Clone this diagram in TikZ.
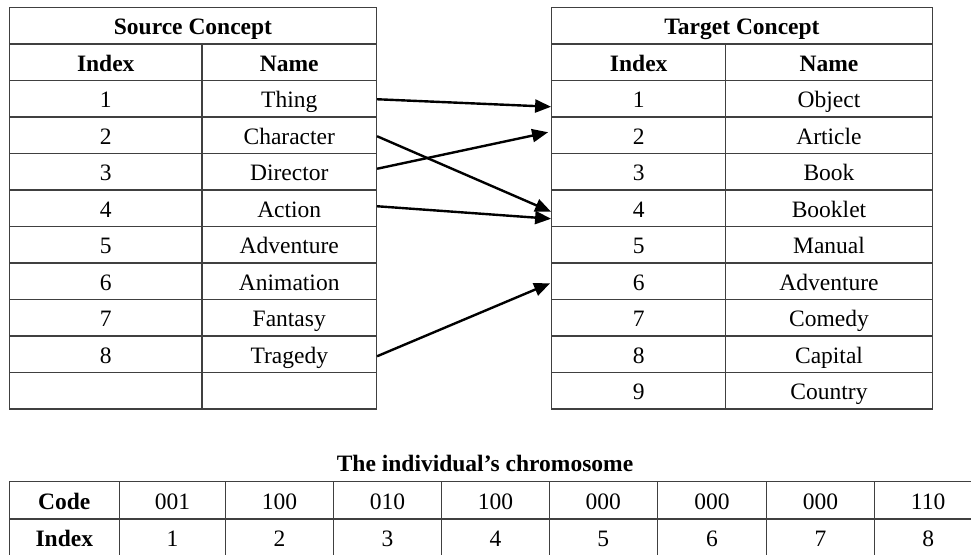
\documentclass[tikz,border=0pt]{standalone}
\usepackage{fontspec}
\setmainfont{Liberation Serif}
\usetikzlibrary{arrows.meta}
\begin{document}
\begin{tikzpicture}[x=1pt,y=-1pt,
  cell/.style={draw=black!75,line width=1.2pt,rectangle,inner sep=0pt,minimum height=36.5pt,text height=18pt,text depth=0pt,font=\fontsize{23.5}{27}\selectfont},
  hcell/.style={cell,font=\fontsize{23.5}{27}\selectfont\bfseries},
  link/.style={line width=2.4pt,-{Triangle[length=16pt,width=13pt]}},
  title/.style={font=\fontsize{23.5}{27}\selectfont\bfseries,inner sep=0pt,text height=18pt,text depth=0pt}]
\useasboundingbox (0,0) rectangle (971,554);
\clip (0,0) rectangle (971,554);
\fill[white] (0,0) rectangle (971,554);
% Source table
\node[hcell,minimum width=367pt] (sh) at (193,25.75) {Source Concept};
\node[hcell,minimum width=192.5pt] (si0) at (105.75,62.25) {Index};
\node[hcell,minimum width=174.5pt] (sn0) at (289.25,62.25) {Name};
\foreach \k/\nm in {1/Thing,2/Character,3/Director,4/Action,5/Adventure,6/Animation,7/Fantasy,8/Tragedy}{
  \node[cell,minimum width=192.5pt] (si\k) at (105.75,62.25+36.5*\k) {\k};
  \node[cell,minimum width=174.5pt] (sn\k) at (289.25,62.25+36.5*\k) {\nm};
}
\node[cell,minimum width=192.5pt] (si9) at (105.75,62.25+36.5*9) {};
\node[cell,minimum width=174.5pt] (sn9) at (289.25,62.25+36.5*9) {};
% Target table
\node[hcell,minimum width=380.6pt] (th) at (742,25.75) {Target Concept};
\node[hcell,minimum width=174pt] (ti0) at (638.7,62.25) {Index};
\node[hcell,minimum width=206.6pt] (tn0) at (829,62.25) {Name};
\foreach \k/\nm in {1/Object,2/Article,3/Book,4/Booklet,5/Manual,6/Adventure,7/Comedy,8/Capital,9/Country}{
  \node[cell,minimum width=174pt] (ti\k) at (638.7,62.25+36.5*\k) {\k};
  \node[cell,minimum width=206.6pt] (tn\k) at (829,62.25+36.5*\k) {\nm};
}
% Arrows
\draw[link] ([yshift=-0.5pt]sn1.east) -- ([yshift=-8pt]ti1.west);
\draw[link] ([yshift=-1pt]sn2.east) -- ([yshift=-3.5pt]ti4.west);
\draw[link] ([yshift=3pt]sn3.east) -- ([xshift=-3pt,yshift=3pt]ti2.west);
\draw[link] ([yshift=2pt]sn4.east) -- ([yshift=-10.5pt]ti4.west);
\draw[link] ([yshift=-2pt]sn8.east) -- ([xshift=-1pt,yshift=-2pt]ti6.west);
% Chromosome
\node[title] (ct) at (485,462) {The individual’s chromosome};
\node[hcell,minimum width=110pt,minimum height=37.3pt] (cc0) at (64.3,500.35) {Code};
\node[hcell,minimum width=110pt,minimum height=37.3pt] (ci0) at (64.3,537.65) {Index};
\foreach \k/\cx/\w/\code in {1/172.5/106.4/001,2/279.5/107.6/100,3/387.5/108.4/010,4/495.5/107.6/100,5/603.3/108/000,6/712/109.4/000,7/820.5/107.6/000,8/928.15/107.7/110}{
  \node[cell,minimum width=\w pt,minimum height=37.3pt] (cc\k) at (\cx,500.35) {\code};
  \node[cell,minimum width=\w pt,minimum height=37.3pt] (ci\k) at (\cx,537.65) {\k};
}
\end{tikzpicture}
\end{document}
